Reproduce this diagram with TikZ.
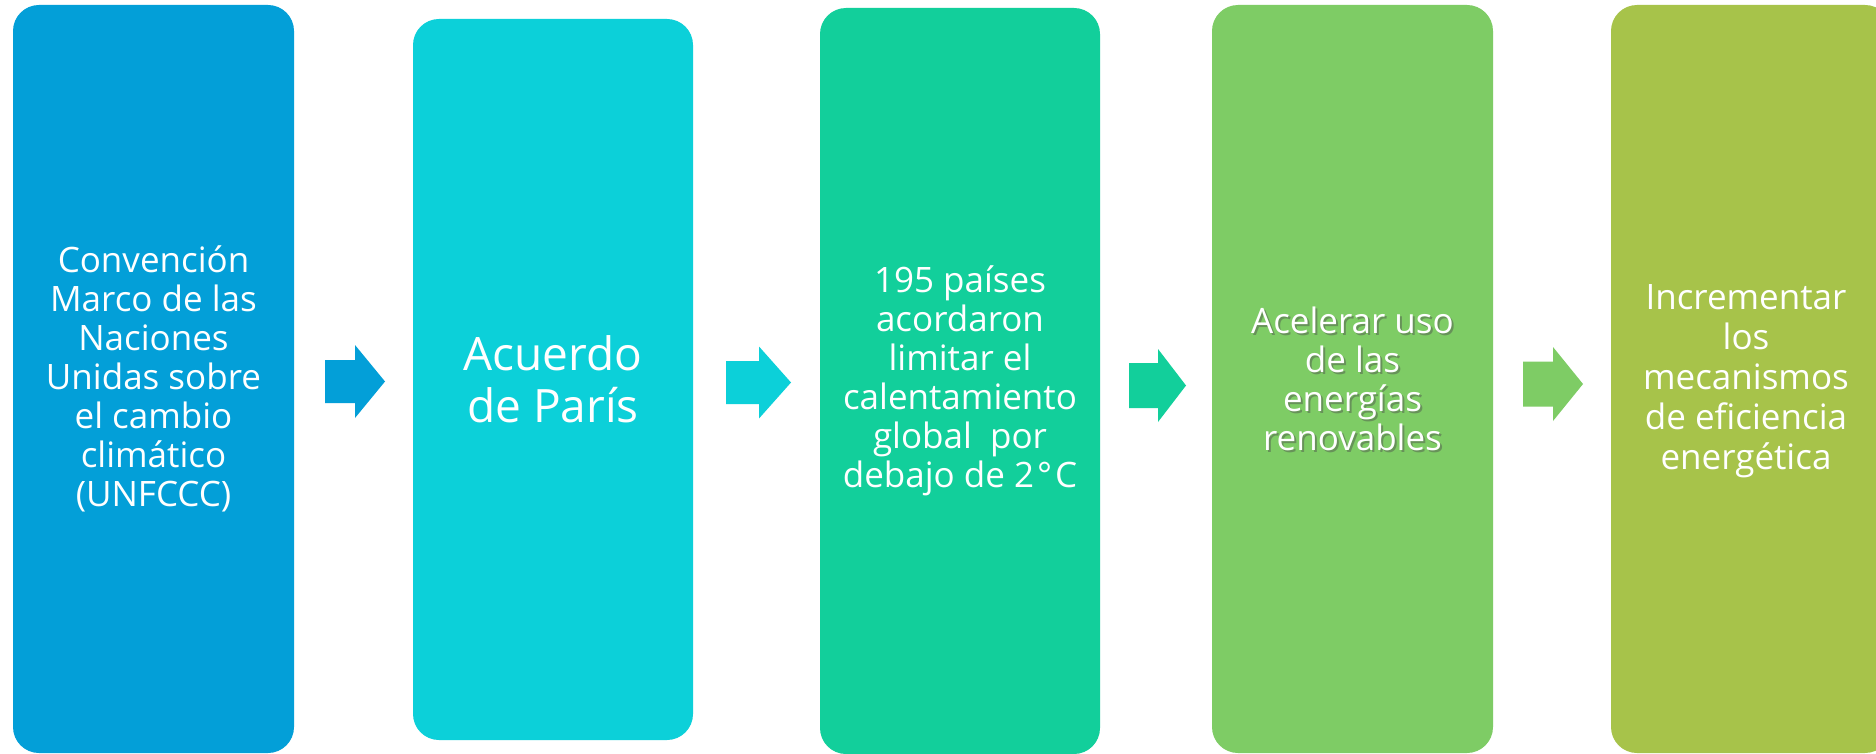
\documentclass[tikz,border=0pt]{standalone}
\usepackage{fontspec}
\setmainfont{Open Sans}
\definecolor{cA}{HTML}{039FD8}
\definecolor{cB}{HTML}{0CD0D9}
\definecolor{cC}{HTML}{12CF9B}
\definecolor{cD}{HTML}{7ECC65}
\definecolor{cE}{HTML}{A7C34A}
\begin{document}
\begin{tikzpicture}[x=1pt,y=-1pt,
  box/.style={rectangle, rounded corners=26pt, inner sep=0pt, minimum width=280pt},
  txt/.style={text=white, align=center, inner sep=0pt, font=\fontsize{35}{39}\selectfont},
  bigtxt/.style={text=white, align=center, inner sep=0pt, font=\fontsize{46}{52}\selectfont}]
\useasboundingbox (0,0) rectangle (1876,754);
\clip (0,0) rectangle (1876,754);
\fill[white] (0,0) rectangle (1876,754);

% boxes
\node[box, fill=cA, minimum width=281pt, minimum height=748pt, txt] (b1) at (153.5,379)
  {Convención\\Marco de las\\Naciones\\Unidas sobre\\el cambio\\climático\\(UNFCCC)};
\node[box, fill=cB, minimum height=721pt, bigtxt] (b2) at (553,379.5)
  {Acuerdo\\de París};
\node[box, fill=cC, minimum height=746pt, txt] (b3) at (960,381)
  {195 países\\acordaron\\limitar el\\calentamiento\\global~ por\\debajo de 2\kern3pt°\kern3pt C};
\node[box, fill=cD, minimum width=281pt, minimum height=748pt] (b4) at (1352.5,379) {};
\node[txt, text=black!70, opacity=.45] (t4s) at (1354.5,381)
  {Acelerar uso\\de las\\energías\\renovables};
\node[txt] (t4) at (1352.5,379)
  {Acelerar uso\\de las\\energías\\renovables};
\node[box, fill=cE, minimum width=280pt, minimum height=748pt] (b5) at (1751,379) {};
\node[text=white, align=center, inner sep=0pt, font=\fontsize{35}{40}\selectfont] (t5) at (1746,381)
  {Incrementar\\los\\mecanismos\\de eficiencia\\energética};

% block arrows
\fill[cA] (325,381.5) coordinate (a1) ++(0,-21.5) -- ++(30,0) -- ++(0,-15) -- ++(30,36.5)
  -- ++(-30,36.5) -- ++(0,-15) -- ++(-30,0) -- cycle;
\fill[cB] (726,382.5) coordinate (a2) ++(0,-21.5) -- ++(33,0) -- ++(0,-14.5) -- ++(32,36)
  -- ++(-32,36) -- ++(0,-14.5) -- ++(-33,0) -- cycle;
\fill[cC] (1129,385.5) coordinate (a3) ++(0,-22.5) -- ++(29,0) -- ++(0,-14) -- ++(28,36.5)
  -- ++(-28,36.5) -- ++(0,-14) -- ++(-29,0) -- cycle;
\fill[cD] (1523,384) coordinate (a4) ++(0,-22.5) -- ++(30,0) -- ++(0,-14.5) -- ++(30,37)
  -- ++(-30,37) -- ++(0,-14.5) -- ++(-30,0) -- cycle;
\end{tikzpicture}
\end{document}
